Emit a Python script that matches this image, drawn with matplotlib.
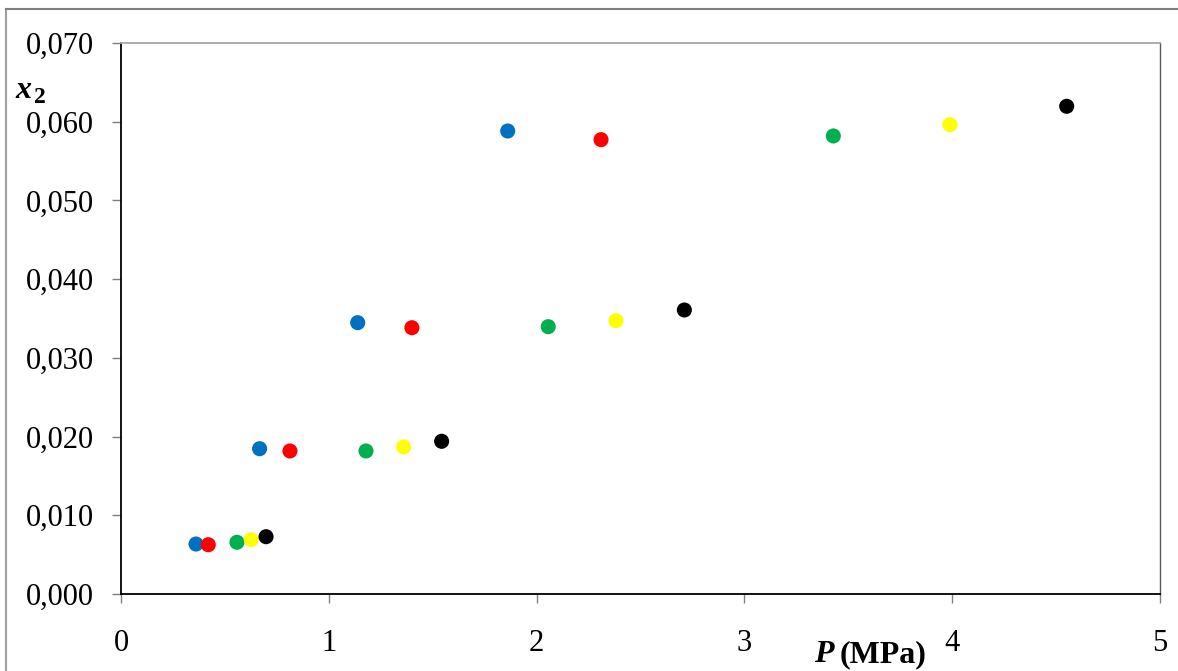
#!/usr/bin/env python3

import matplotlib
matplotlib.use("Agg")
from matplotlib import pyplot as plt
from matplotlib.ticker import FuncFormatter, MultipleLocator
from matplotlib.lines import Line2D

plt.rcParams["font.family"] = ["Liberation Serif", "DejaVu Serif"]

# pressure (MPa) and solubility x2, one series per temperature
p_blue = [0.361, 0.667, 1.139, 1.861]
x2_blue = [0.00635, 0.01846, 0.03447, 0.05882]
p_red = [0.420, 0.813, 1.400, 2.310]
x2_red = [0.00626, 0.01817, 0.03383, 0.05772]
p_green = [0.558, 1.179, 2.056, 3.428]
x2_green = [0.00657, 0.01817, 0.03396, 0.05819]
p_yellow = [0.627, 1.360, 2.382, 3.989]
x2_yellow = [0.00690, 0.01868, 0.03472, 0.05962]
p_black = [0.698, 1.543, 2.711, 4.551]
x2_black = [0.00728, 0.01940, 0.03608, 0.06196]

series = [
    (p_blue, x2_blue, "#0070C0"),
    (p_red, x2_red, "#FF0000"),
    (p_green, x2_green, "#00B050"),
    (p_yellow, x2_yellow, "#FFFF00"),
    (p_black, x2_black, "#000000"),
]

W, H = 1178, 671
fig = plt.figure(figsize=(W / 100, H / 100), dpi=100)
ax = fig.add_axes([121 / W, 1 - 594 / H, (1160 - 121) / W, (594 - 43) / H])

for px, py, c in series:
    ax.scatter(px, py, s=118, color=c, edgecolors="none", zorder=3, clip_on=False)

ax.set_xlim(0, 5)
ax.set_ylim(0, 0.070)
ax.xaxis.set_major_locator(MultipleLocator(1))
ax.yaxis.set_major_locator(MultipleLocator(0.010))
ax.yaxis.set_major_formatter(FuncFormatter(lambda v, pos: ("%.3f" % v).replace(".", ",")))
ax.xaxis.set_major_formatter(FuncFormatter(lambda v, pos: "%d" % round(v)))

ax.spines["left"].set_color("black")
ax.spines["bottom"].set_color("black")
ax.spines["left"].set_linewidth(1.3)
ax.spines["bottom"].set_linewidth(1.3)
ax.spines["top"].set_color("#A6A6A6")
ax.spines["right"].set_color("#595959")
ax.spines["top"].set_linewidth(1.3)
ax.spines["right"].set_linewidth(1.0)

ax.tick_params(axis="both", direction="out", length=6.5, width=1.0,
               color="#808080", labelsize=22)
ax.tick_params(axis="y", pad=13)
ax.tick_params(axis="x", pad=19)

# axis titles placed by hand, bold italic symbol + bold unit
fig.text(15 / W, 1 - 98 / H, "x", fontsize=23, fontweight="bold", fontstyle="italic",
         ha="left", va="baseline")
fig.text(34 / W, 1 - 103 / H, "2", fontsize=17, fontweight="bold",
         ha="left", va="baseline")
fig.text(814 / W, 1 - 662 / H, "P", fontsize=23, fontweight="bold", fontstyle="italic",
         ha="left", va="baseline")
fig.text(840 / W, 1 - 662 / H, "(MPa)", fontsize=23, fontweight="bold",
         ha="left", va="baseline")

# outer chart frame
fig.add_artist(Line2D([6 / W, 6 / W], [0, 1 - 9 / H], transform=fig.transFigure,
                      color="#A0A0A0", lw=1.5))
fig.add_artist(Line2D([6 / W, 1], [1 - 9 / H, 1 - 9 / H], transform=fig.transFigure,
                      color="#808080", lw=1.5))

fig.savefig("out.png", dpi=100)
